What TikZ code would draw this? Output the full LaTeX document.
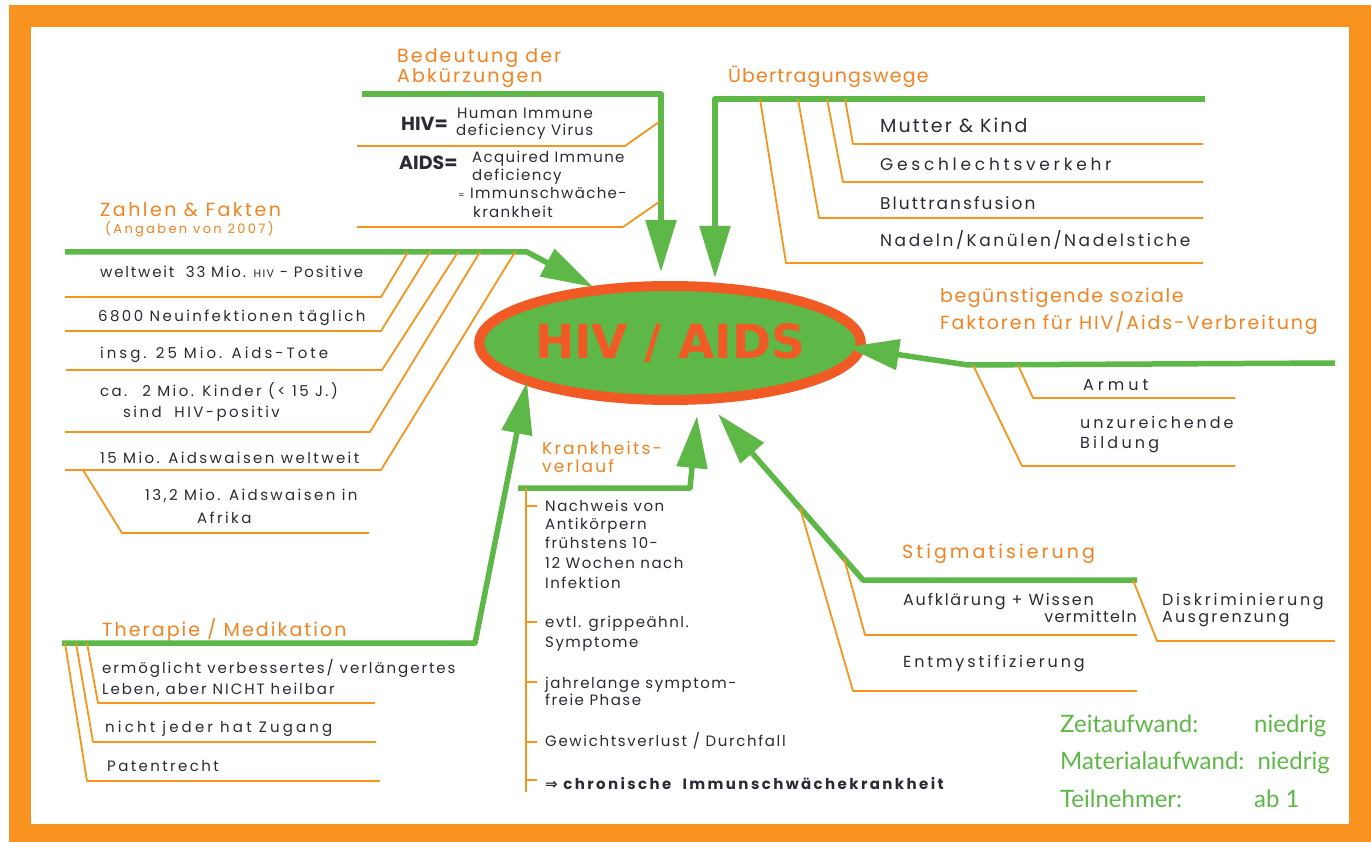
\documentclass[tikz,border=0pt]{standalone}
\usepackage{fontspec}
\usetikzlibrary{arrows.meta,shapes.geometric}
\setmainfont{Poppins}
\newfontfamily\hand{Poppins}
\newfontfamily\symfont{DejaVu Sans}
\newfontfamily\infofont{Lato}
\definecolor{frameor}{HTML}{F7931E}
\definecolor{mmgreen}{HTML}{5DB847}
\definecolor{ellred}{HTML}{F15A24}
\definecolor{heador}{HTML}{F58220}
\definecolor{lineor}{HTML}{F7941D}
\definecolor{ink}{HTML}{2B2B35}
\newcommand\fsz[1]{\fontsize{#1}{#1}\selectfont}
\newcommand\hf[2]{\hand\fsz{#1}\addfontfeatures{LetterSpace=#2}}
\tikzset{
 branch/.style={draw=mmgreen, line width=5.5pt, line join=round, -{Triangle[length=52pt,width=30pt]}},
 sub/.style={draw=lineor, line width=1.8pt, line join=round},
 head/.style={anchor=mid west, inner sep=0pt, yshift=-3pt, text=heador, font=\hf{19}{10}},
 item/.style={anchor=mid west, inner sep=0pt, yshift=-3pt, text=ink, font=\hf{15}{16}},
 info/.style={anchor=mid west, inner sep=0pt, yshift=-5pt, text=mmgreen, font=\infofont\fsz{24}},
}
\begin{document}
\begin{tikzpicture}[x=1pt,y=-1pt]
\useasboundingbox (0,0) rectangle (1371,842);
\fill[white] (0,0) rectangle (1371,842);
\fill[frameor] (9,5) rectangle (1371,842);
\fill[white] (31,27) rectangle (1349,824);

% central node
\node[ellipse, draw=ellred, line width=10pt, fill=mmgreen, minimum width=332pt, minimum height=114pt, inner sep=0pt,
  text=ellred, font=\symfont\bfseries\fsz{47}] (hiv) at (670,343) {HIV / AIDS};

% arrow tips at the central node
\coordinate (tZ) at (593,287);
\coordinate (tA) at (661,272);
\coordinate (tU) at (715,278);
\coordinate (tS) at (847,347);
\coordinate (tG) at (718,414);
\coordinate (tK) at (697,416);
\coordinate (tT) at (527,382);

% ---------- Bedeutung der Abkuerzungen
\node[head, font=\hf{19}{11}] (hA1) at (397,57) {Bedeutung der};
\node[head, font=\hf{19}{11}] (hA2) at (397,77) {Abkürzungen};
\draw[branch] (362,94) coordinate (a0) -- (661,94) coordinate (a1) -- (tA);
\draw[sub] (659,122) -- (625,146) -- (357,146);
\draw[sub] (659,202) -- (623,227) -- (357,227);
\node[item, font=\hand\bfseries\fsz{19}] (hivq) at (401,125) {HIV=};
\node[item, font=\hf{15}{9}] (hivl1) at (457,113) {Human Immune};
\node[item, font=\hf{15}{9}] (hivl2) at (456,130) {deficiency Virus};
\node[item, font=\hand\bfseries\fsz{19}] (aidsq) at (399,164) {AIDS=};
\node[item, font=\hf{15}{9}] (aidsl1) at (472,157) {Acquired Immune};
\node[item, font=\hf{15}{9}] (aidsl2) at (472,175) {deficiency};
\node[item, font=\hf{15}{9}] (aidsl3) at (458,193) {{\fsz{9}=} Immunschwäche-};
\node[item, font=\hf{15}{9}] (aidsl4) at (473,212) {krankheit};

% ---------- Uebertragungswege
\node[head, font=\hf{19}{6}] (hU) at (728,77) {Übertragungswege};
\draw[branch] (1205,99) coordinate (u0) -- (715,99) coordinate (u1) -- (tU);
\draw[sub] (845,99) -- (853,144) -- (1203,144);
\draw[sub] (827,99) -- (843,182) -- (1203,182);
\draw[sub] (798,99) -- (819,218) -- (1203,218);
\draw[sub] (760,99) -- (786,263) -- (1203,263);
\node[item, font=\hf{19}{11}] (u1t) at (880,127) {Mutter \& Kind};
\node[item, font=\hf{17}{22}] (u2t) at (880,165) {Geschlechtsverkehr};
\node[item, font=\hf{17}{12}] (u3t) at (880,204) {Bluttransfusion};
\node[item, font=\hf{17}{15}] (u4t) at (880,241) {Nadeln/Kanülen/Nadelstiche};

% ---------- Zahlen & Fakten
\node[head, font=\hf{19}{13}] (hZ1) at (100,211) {Zahlen \& Fakten};
\node[head, font=\hf{13}{18}] (hZ2) at (105,228) {(Angaben von 2007)};
\draw[branch] (65,252) coordinate (z0) -- (527,252) coordinate (z1) -- (tZ);
\draw[sub] (408,252) -- (381,297) -- (65,297);
\draw[sub] (430,252) -- (381,331) -- (65,331);
\draw[sub] (458,252) -- (382,370) -- (66,370);
\draw[sub] (480,252) -- (370,432) -- (65,432);
\draw[sub] (515,252) -- (381,470) -- (65,470);
\draw[sub] (83,470) -- (122,533) -- (369,533);
\node[item, font=\hf{15}{12}] (z1t) at (100,272) {weltweit\ \ 33 Mio. {\fsz{11}HIV} - Positive};
\node[item] (z2t) at (98,316) {6800 Neuinfektionen täglich};
\node[item, font=\hf{15}{20}] (z3t) at (100,353) {insg. 25 Mio. Aids-Tote};
\node[item] (z4t) at (100,391) {ca. \ 2 Mio. Kinder (< 15 J.)};
\node[item] (z4u) at (123,412) {sind \ HIV-positiv};
\node[item] (z5t) at (100,458) {15 Mio. Aidswaisen weltweit};
\node[item] (z6t) at (145,495) {13,2 Mio. Aidswaisen in};
\node[item] (z6u) at (197,518) {Afrika};

% ---------- Therapie / Medikation
\node[head, font=\hf{19}{11}] (hT) at (102,631) {Therapie / Medikation};
\draw[branch] (62,643) coordinate (t0) -- (475,643) coordinate (t1) -- (tT);
\draw[sub] (87,643) -- (98,703) -- (375,703);
\draw[sub] (76,643) -- (93,742) -- (376,742);
\draw[sub] (65,643) -- (87,781) -- (380,781);
\node[item, font=\hf{15}{13}] (t1t) at (102,668) {ermöglicht verbessertes/ verlängertes};
\node[item, font=\hf{15}{13}] (t1u) at (102,689) {Leben, aber NICHT heilbar};
\node[item, font=\hf{15}{21}] (t2t) at (105,727) {nicht jeder hat Zugang};
\node[item, font=\hf{15}{16}] (t3t) at (107,766) {Patentrecht};

% ---------- Krankheitsverlauf
\node[head, font=\hf{17}{13}] (hK1) at (542,449) {Krankheits-};
\node[head, font=\hf{17}{13}] (hK2) at (542,467) {verlauf};
\draw[branch] (518,488) coordinate (k0) -- (690,488) coordinate (k1) -- (tK);
\draw[sub] (526,488) -- (526,792);
\foreach \yy/\nm in {506/ka,622/kb,682/kc,742/kd,780/ke}
  \draw[sub] (526,\yy) -- (537,\yy) coordinate (\nm);
\tikzset{kitem/.style={item, font=\hf{15}{10}}}
\node[kitem] (k1a) at (545,506) {Nachweis von};
\node[kitem] (k1b) at (545,524) {Antikörpern};
\node[kitem] (k1c) at (545,543) {frühstens 10-};
\node[kitem] (k1d) at (545,563) {12 Wochen nach};
\node[kitem] (k1e) at (545,583) {Infektion};
\node[kitem] (k2a) at (545,622) {evtl. grippeähnl.};
\node[kitem] (k2b) at (545,642) {Symptome};
\node[kitem] (k3a) at (545,683) {jahrelange symptom-};
\node[kitem] (k3b) at (545,700) {freie Phase};
\node[kitem, font=\hf{15}{11}] (k4a) at (545,741) {Gewichtsverlust / Durchfall};
\node[item, font=\hand\bfseries\fsz{15}\addfontfeatures{LetterSpace=16}] (k5a) at (545,784) {{\symfont⇒} chronische \ Immunschwächekrankheit};

% ---------- soziale Faktoren
\node[head, font=\hf{19}{8}] (hS1) at (940,297) {begünstigende soziale};
\node[head, font=\hf{19}{10}] (hS2) at (940,324) {Faktoren für HIV/Aids-Verbreitung};
\draw[branch] (1335,363) coordinate (s0) -- (968,365) coordinate (s1) -- (tS);
\draw[sub] (973,365) -- (1022,466) -- (1235,466);
\draw[sub] (1018,365) -- (1033,398) -- (1235,398);
\node[item, font=\hf{16}{25}] (s1t) at (1083,385) {Armut};
\node[item, font=\hf{16}{18}] (s2t) at (1080,423) {unzureichende};
\node[item, font=\hf{16}{20}] (s2u) at (1080,443) {Bildung};

% ---------- Stigmatisierung
\node[head, font=\hf{19}{16}] (hG) at (902,553) {Stigmatisierung};
\draw[branch] (1137,580) coordinate (g0) -- (863,580) coordinate (g1) -- (tG);
\draw[sub] (800,508) -- (853,691) -- (1137,691);
\draw[sub] (844,558) -- (865,635) -- (1137,635);
\draw[sub] (1133,580) -- (1157,641) -- (1335,641);
\node[item, font=\hf{16}{11}] (g1t) at (903,600) {Aufklärung + Wissen};
\node[item, font=\hf{16}{8}, anchor=mid east] (g1u) at (1137,617) {vermitteln};
\node[item, font=\hf{16}{18}] (g2t) at (903,662) {Entmystifizierung};
\node[item, font=\hf{16}{17}] (g3t) at (1162,600) {Diskriminierung};
\node[item, font=\hf{16}{14}] (g3u) at (1162,617) {Ausgrenzung};

% ---------- info
\node[info] (i1) at (1060,725) {Zeitaufwand:};
\node[info] (i1v) at (1254,725) {niedrig};
\node[info] (i2) at (1060,762) {Materialaufwand:};
\node[info, anchor=mid east] (i2v) at (1330,762) {niedrig};
\node[info] (i3) at (1060,800) {Teilnehmer:};
\node[info] (i3v) at (1254,800) {ab 1};
\end{tikzpicture}
\end{document}
